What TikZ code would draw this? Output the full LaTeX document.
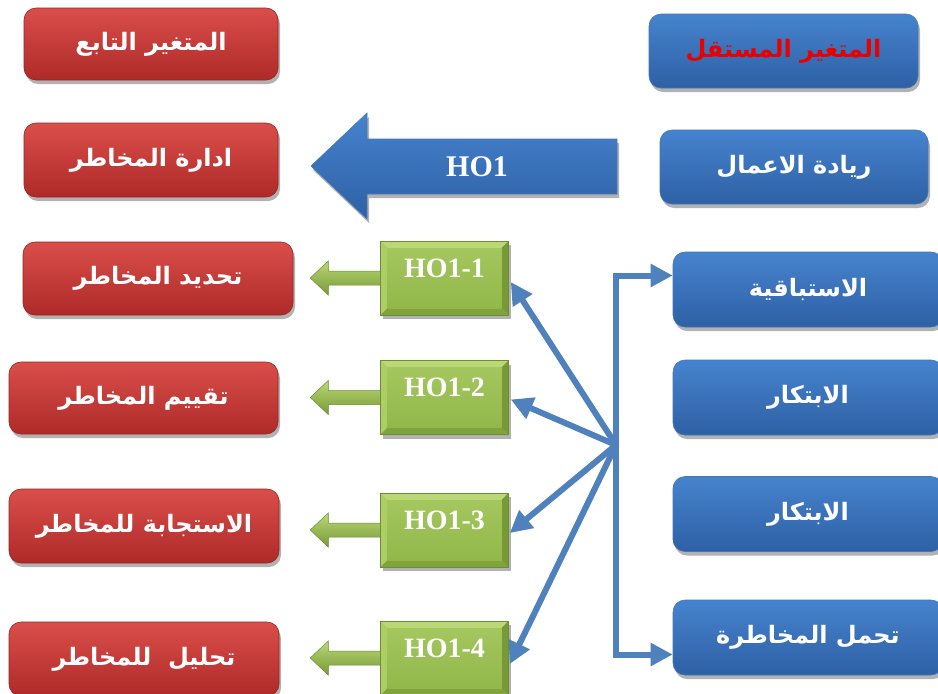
\documentclass[tikz,border=0pt]{standalone}
\usepackage{fontspec}
\setmainfont{Liberation Serif}
\newfontfamily\arabicfont[Script=Arabic]{DejaVu Sans}
\TeXXeTstate=1
\usetikzlibrary{shadows,arrows.meta,calc}

\definecolor{redTop}{RGB}{218,78,74}
\definecolor{redBot}{RGB}{174,42,40}
\definecolor{redEdge}{RGB}{150,36,34}
\definecolor{blueTop}{RGB}{70,131,206}
\definecolor{blueBot}{RGB}{46,96,164}
\definecolor{blueEdge}{RGB}{66,118,188}
\definecolor{lineBlue}{RGB}{79,129,189}
\definecolor{grFaceTop}{RGB}{164,198,94}
\definecolor{grFaceBot}{RGB}{146,184,74}
\definecolor{grLight}{RGB}{186,216,118}
\definecolor{grMid}{RGB}{172,206,100}
\definecolor{grDark}{RGB}{120,154,54}
\definecolor{grEdge}{RGB}{110,140,50}
\definecolor{labelRed}{RGB}{235,0,0}

% Arabic label, set right to left
\newcommand\arT[1]{{\arabicfont\bfseries\beginR #1\endR}}

% green pointer leaving the west side of a hypothesis box
\newcommand\hoArrow[1]{%
  \path[hoarrow] ($(#1.west)+(0,-7)$) -- ++(-52,0) -- ++(0,-10) -- ++(-18,17)
    -- ++(18,17) -- ++(0,-10) -- ++(52,0) -- cycle;}

\tikzset{
  shadowed/.style={drop shadow={shadow xshift=2pt, shadow yshift=-4pt, opacity=.3, fill=black}},
  boxbase/.style={shadowed, rounded corners=12pt, line width=.6pt,
    minimum width=270pt, minimum height=74pt, inner sep=0pt, text=white,
    font=\fontsize{24}{28}\selectfont},
  redbox/.style={boxbase, top color=redTop, bottom color=redBot, draw=redEdge},
  bluebox/.style={boxbase, top color=blueTop, bottom color=blueBot, draw=blueEdge},
  greenbox/.style={shadowed, fill=grFaceBot, draw=grEdge, line width=.5pt,
    minimum width=128pt, minimum height=74pt, inner sep=0pt, text=white,
    font=\bfseries\fontsize{28}{30}\selectfont, text height=20pt, text depth=22pt,
    path picture={
      \fill[grLight] (path picture bounding box.north west) -- (path picture bounding box.north east)
        -- ([shift={(-7pt,-7pt)}]path picture bounding box.north east)
        -- ([shift={(7pt,-7pt)}]path picture bounding box.north west) -- cycle;
      \fill[grMid] (path picture bounding box.north west) -- (path picture bounding box.south west)
        -- ([shift={(7pt,7pt)}]path picture bounding box.south west)
        -- ([shift={(7pt,-7pt)}]path picture bounding box.north west) -- cycle;
      \fill[grDark] (path picture bounding box.north east) -- (path picture bounding box.south east)
        -- ([shift={(-7pt,7pt)}]path picture bounding box.south east)
        -- ([shift={(-7pt,-7pt)}]path picture bounding box.north east) -- cycle;
      \fill[grDark!70!grFaceBot] (path picture bounding box.south west) -- (path picture bounding box.south east)
        -- ([shift={(-7pt,7pt)}]path picture bounding box.south east)
        -- ([shift={(7pt,7pt)}]path picture bounding box.south west) -- cycle;
      \shade[top color=grFaceTop, bottom color=grFaceBot]
        ([shift={(7pt,-7pt)}]path picture bounding box.north west) rectangle
        ([shift={(-7pt,7pt)}]path picture bounding box.south east);
    }},
  hoarrow/.style={top color=grLight, bottom color=grDark, draw=grEdge, line width=.5pt},
  bigarrow/.style={shadowed, top color=blueTop, bottom color=blueBot, draw=blueEdge, line width=.6pt},
  conn/.style={draw=lineBlue, line width=6pt, -{Triangle[length=22pt,width=22pt]}},
}

\begin{document}
\begin{tikzpicture}[x=1pt, y=-1pt]
\useasboundingbox (0,0) rectangle (938,694);
\fill[white] (0,0) rectangle (938,694);

% dependent variable column
\node[redbox, minimum width=254pt, minimum height=72pt] (r1) at (151,44)    {\arT{المتغير التابع}};
\node[redbox, minimum width=254pt] (r2) at (151,160)   {\arT{ادارة المخاطر}};
\node[redbox, minimum height=73pt] (r3) at (158,278.5) {\arT{تحديد المخاطر}};
\node[redbox, minimum width=269pt, minimum height=72pt] (r4) at (143.5,398) {\arT{تقييم المخاطر}};
\node[redbox] (r5) at (144,526) {\arT{الاستجابة للمخاطر}};
\node[redbox] (r6) at (144,659) {\arT{تحليل\ \ للمخاطر}};

% independent variable column
\node[bluebox, minimum width=269pt, text=labelRed] (b1) at (783.5,51) {\arT{المتغير المستقل}};
\node[bluebox, minimum width=268pt] (b2) at (794,167) {\arT{ريادة الاعمال}};
\node[bluebox, minimum height=75pt] (b3) at (808,289.5) {\arT{الاستباقية}};
\node[bluebox, minimum height=75pt] (b4) at (808,397.5) {\arT{الابتكار}};
\node[bluebox, minimum height=75pt] (b5) at (808,514)   {\arT{الابتكار}};
\node[bluebox, minimum height=75pt] (b6) at (808,637.5) {\arT{تحمل المخاطرة}};

% main hypothesis arrow
\path[bigarrow] (617,139) -- (367,139) -- (367,113) -- (311,166) -- (367,219)
  -- (367,194) -- (617,194) -- cycle;
\node[text=white, font=\bfseries\fontsize{30}{32}\selectfont] (ho) at (477,167) {HO1};

% sub-hypotheses with their pointers
\node[greenbox] (g1) at (444.5,278)   {HO1-1};
\node[greenbox] (g2) at (444.5,397.5) {HO1-2};
\node[greenbox] (g3) at (444.5,530)   {HO1-3};
\node[greenbox] (g4) at (444.5,658)   {HO1-4};
\hoArrow{g1}
\hoArrow{g2}
\hoArrow{g3}
\hoArrow{g4}

% links from the dimensions to the sub-hypotheses
\coordinate (hub) at (616,445);
\draw[conn] (hub) |- ($(b3.west)+(0,-14)$);
\draw[conn] (hub) |- ($(b6.west)+(0,17)$);
\draw[conn] (hub) -- ($(g1.east)+(2,4)$);
\draw[conn] (hub) -- ($(g2.east)+(2,2)$);
\draw[conn] (hub) -- ($(g3.east)+(1,3)$);
\draw[conn] (hub) -- ($(g4.east)+(1,6)$);
\end{tikzpicture}
\end{document}
